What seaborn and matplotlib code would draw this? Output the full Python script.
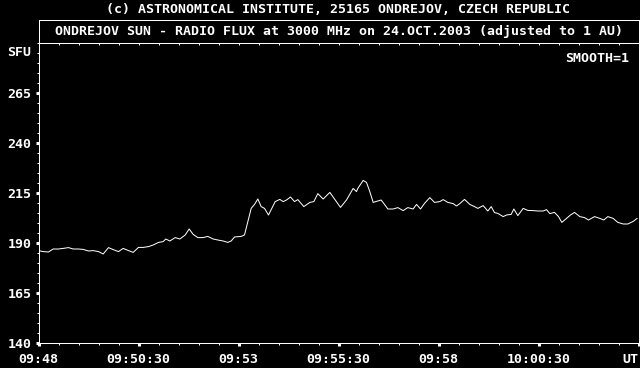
import numpy as np
import pandas as pd
import matplotlib
matplotlib.use("Agg")
import matplotlib.pyplot as plt
from matplotlib.ticker import MultipleLocator, FixedLocator
import seaborn as sns

# ---- data (seconds after 09:48:00 UT, flux in SFU) ----
seconds = [0, 7, 15, 22, 30, 37, 45, 52, 60, 67, 75, 82, 90, 97, 105, 112, 120, 127, 135, 142,
           150, 157, 165, 172, 180, 187, 191, 197, 205, 212, 220, 226, 232,
           239, 247, 254, 262, 269, 277, 284, 289, 294, 304, 309, 314, 319, 324, 329, 334, 339,
           345, 350, 355, 362, 367, 372, 378, 384, 389, 398, 407, 413, 419, 427, 437, 444, 453,
           462, 472, 477,
           479, 487, 492, 497, 502, 509, 514, 519, 524, 532, 539, 547, 554, 562, 567, 573, 579,
           587, 594, 602, 607, 614, 622, 627, 632, 639, 647, 654, 659, 667, 674, 679, 684,
           689, 697, 702, 709, 713, 719, 727, 734, 742, 749, 757, 762, 767, 774, 780, 785, 792,
           798, 804, 812, 819, 825, 834, 842, 848, 854, 862, 869, 877, 884, 892, 898]
flux = [186.2, 185.7, 185.5, 187.0, 187.0, 187.3, 187.7, 187.0, 187.0, 186.8, 186.0, 186.2, 185.7,
        184.5, 187.7, 186.7, 185.7, 187.3, 186.2, 185.3, 187.8, 187.8, 188.2, 189.0, 190.3, 190.7,
        192.0, 191.0, 192.7, 192.0, 194.0, 197.0, 194.3,
        192.7, 192.7, 193.3, 192.0, 191.5, 191.0, 190.3, 191.0, 193.0, 193.3, 194.0, 200.7, 207.3,
        209.3, 212.0, 208.2, 207.3, 204.0, 207.3, 210.7, 211.8, 210.7, 211.5, 213.0, 210.7, 211.7,
        208.2, 210.3, 210.7, 214.7, 212.0, 215.3, 212.0, 207.8, 211.5, 217.3, 215.7,
        217.3, 221.3, 220.3, 215.7, 210.3, 211.0, 211.5, 209.3, 207.0, 207.0, 207.7, 206.2, 207.7,
        207.0, 209.3, 207.0, 209.8, 212.7, 210.3, 210.7, 211.7, 210.3, 209.7, 208.5, 209.7, 211.8,
        209.3, 208.2, 207.3, 208.7, 206.0, 208.2, 205.2,
        204.8, 203.2, 204.0, 204.3, 207.0, 203.7, 207.3, 206.3, 206.2, 206.0, 206.0, 206.7, 204.7,
        205.3, 203.2, 200.3, 202.3, 204.0, 205.3, 203.2, 202.7, 201.5, 203.2, 202.3, 201.5, 203.2,
        202.3, 200.3, 199.5, 199.5, 200.8, 202.3]

x_tick_values = [0, 150, 300, 450, 600, 750, 900]
x_tick_labels = ["09:48", "09:50:30", "09:53", "09:55:30", "09:58", "10:00:30", "UT"]
y_tick_values = [140, 165, 190, 215, 240, 265]
y_tick_labels = ["140", "165", "190", "215", "240", "265"]

header = "(c) ASTRONOMICAL INSTITUTE, 25165 ONDREJOV, CZECH REPUBLIC"
title = "ONDREJOV SUN - RADIO FLUX at 3000 MHz on 24.OCT.2003 (adjusted to 1 AU)"

df = pd.DataFrame({"t": seconds, "flux": flux})

sns.set_theme(style="dark")
plt.rcParams["font.family"] = ["DejaVu Sans Mono", "DejaVu Sans"]
FS = 9.5
W = "white"
LW = 0.72

fig = plt.figure(figsize=(6.4, 3.68), dpi=100, facecolor="black")
ax = fig.add_axes([38.5 / 640, (368 - 343) / 368, 600 / 640, 300 / 368])
ax.set_facecolor("black")

sns.lineplot(data=df, x="t", y="flux", ax=ax, color=W, linewidth=LW, antialiased=True)

ax.set_xlim(0, 900)
ax.set_ylim(140, 290)
ax.grid(False)
ax.set_xlabel("")
ax.set_ylabel("")
for s in ax.spines.values():
    s.set_color(W)
    s.set_linewidth(LW)

ax.xaxis.set_major_locator(FixedLocator(x_tick_values))
ax.set_xticklabels(x_tick_labels, color=W, fontsize=FS, fontweight="bold")
ax.xaxis.set_minor_locator(MultipleLocator(30))
ax.yaxis.set_major_locator(FixedLocator(y_tick_values))
ax.set_yticklabels(y_tick_labels, color=W, fontsize=FS, fontweight="bold")
ax.yaxis.set_minor_locator(MultipleLocator(5))
ax.tick_params(which="major", direction="out", length=2.2, width=2.2, color=W,
               bottom=True, left=True, top=False, right=False)
ax.tick_params(which="minor", direction="out", length=1.5, width=0.72, color=W,
               bottom=True, left=True, top=False, right=False)
ax.tick_params(axis="x", which="major", pad=5)
ax.tick_params(axis="y", which="major", pad=3)
lbls = ax.get_xticklabels()
lbls[-1].set_horizontalalignment("right")

# top inward ticks
sec = ax.secondary_xaxis("top")
sec.xaxis.set_major_locator(MultipleLocator(30))
sec.tick_params(direction="in", length=1.5, width=0.72, color=W, labeltop=False)
sec.spines["top"].set_color(W)
sec.spines["top"].set_linewidth(LW)

ax.text(-0.012, 285, "SFU", transform=ax.get_yaxis_transform(), ha="right", va="center",
        color=W, fontsize=FS, fontweight="bold")
ax.text(0.985, 0.95, "SMOOTH=1", transform=ax.transAxes, ha="right", va="center",
        color=W, fontsize=FS, fontweight="bold")

# title box
tax = fig.add_axes([38.5 / 640, (368 - 43.3) / 368, 600.5 / 640, 23.8 / 368])
tax.set_facecolor("black")
tax.set_xticks([])
tax.set_yticks([])
for s in tax.spines.values():
    s.set_color(W)
    s.set_linewidth(LW)
tax.text(0.5, 0.5, title, transform=tax.transAxes, ha="center", va="center",
         color=W, fontsize=FS, fontweight="bold")

fig.text(338.5 / 640, 1 - 9.5 / 368, header, ha="center", va="center",
         color=W, fontsize=FS, fontweight="bold")

fig.savefig("out.png", dpi=100, facecolor="black")
